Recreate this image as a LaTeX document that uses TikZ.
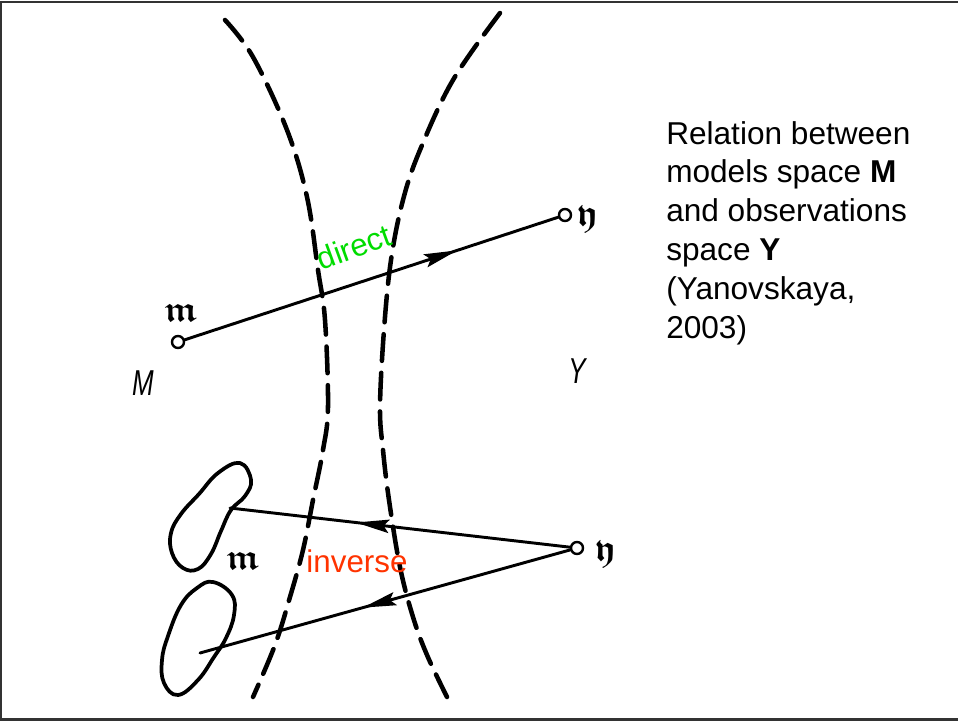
\documentclass[tikz,border=0pt]{standalone}
\usepackage{fontspec}
\setmainfont{Liberation Sans}
\usepackage{amssymb}
\usepackage{bm}
\usetikzlibrary{arrows.meta,decorations.markings}
\definecolor{framegray}{RGB}{51,51,51}
\definecolor{directgreen}{RGB}{0,220,0}
\definecolor{inversered}{RGB}{255,51,0}
\tikzset{
  ink/.style={line width=2.2pt, black, line cap=round, line join=round},
  boundary/.style={line width=3.4pt, black, dash pattern=on 20pt off 9pt, line cap=round},
  spot/.style={circle, draw, line width=1.8pt, inner sep=0pt, minimum size=9pt, fill=white},
  midarrow/.style={decoration={markings, mark=at position #1 with {\arrow{Stealth[length=25pt,width=10pt,inset=4pt]}}}, postaction=decorate},
  fraklabel/.style={inner sep=0pt, font=\fontsize{27pt}{27pt}\selectfont},
  spacelabel/.style={inner sep=0pt, font=\fontsize{27pt}{27pt}\selectfont\itshape, xscale=0.72},
  caption/.style={anchor=north west, align=left, inner sep=0pt, font=\fontsize{23.7pt}{29.1pt}\selectfont},
  tag/.style={inner sep=0pt, font=\fontsize{23.5pt}{24pt}\selectfont}
}
\begin{document}
\begin{tikzpicture}[x=0.75pt, y=-0.75pt]
\useasboundingbox (0,0) rectangle (958,722);
% frame (top, left, bottom)
\draw[line width=1.6pt, framegray] (958,2) -- (1,2) -- (1,719.5) -- (958,719.5);

% dashed boundaries of the two spaces
\draw[boundary] plot[smooth, tension=0.6] coordinates {(225,20) (253,57) (287,130) (307,197) (318,270) (325,320) (328,407) (323,450) (313,500) (303,550) (290,597) (275,645) (253,697)};
\draw[boundary] plot[smooth, tension=0.6] coordinates {(500,13) (453,80) (420,150) (403,200) (391,260) (384,330) (380,407) (383,450) (389,500) (400,567) (413,617) (427,655) (447,697)};

% blobs
\draw[ink, line width=2.8pt] plot[smooth cycle, tension=0.7] coordinates {(240,463) (251,480) (245,496) (231,510) (221,531) (211,554) (198,569) (183,568) (172,553) (171,533) (181,514) (199,494) (218,473)};
\draw[ink, line width=2.8pt] plot[smooth cycle, tension=0.7] coordinates {(213,582) (232,595) (234,615) (226,638) (214,657) (198,680) (178,695) (164,683) (162,660) (168,636) (181,605) (197,588)};

% points
\node[spot] (m) at (178,342) {};
\node[spot] (y1) at (565,215) {};
\node[spot] (y2) at (577,548) {};
\coordinate (mA) at (230,508);
\coordinate (mB) at (200,653);

% connectors
\draw[ink, midarrow=0.73] (m) -- (y1);
\draw[ink, midarrow=0.63] (y2) -- (mA);
\draw[ink, midarrow=0.56] (y2) -- (mB);

% labels of points and spaces
\node[fraklabel] (lm) at (181,313) {$\bm{\mathfrak{m}}$};
\node[fraklabel] (ly1) at (587,220) {$\bm{\mathfrak{y}}$};
\node[fraklabel] (ly2) at (605,555) {$\bm{\mathfrak{y}}$};
\node[fraklabel] (lm2) at (243,561) {$\bm{\mathfrak{m}}$};
\node[spacelabel] (lM) at (143,383) {M};
\node[spacelabel] (lY) at (577,371) {Y};

% coloured tags
\node[tag, text=directgreen, rotate=20] (direct) at (354,247) {direct};
\node[tag, text=inversered, anchor=base] (inverse) at (357,572) {inverse};

% caption
\node[caption] (cap) at (666,121) {Relation between\\models space \textbf{M}\\and observations\\space \textbf{Y}\\(Yanovskaya,\\2003)};
\end{tikzpicture}
\end{document}
